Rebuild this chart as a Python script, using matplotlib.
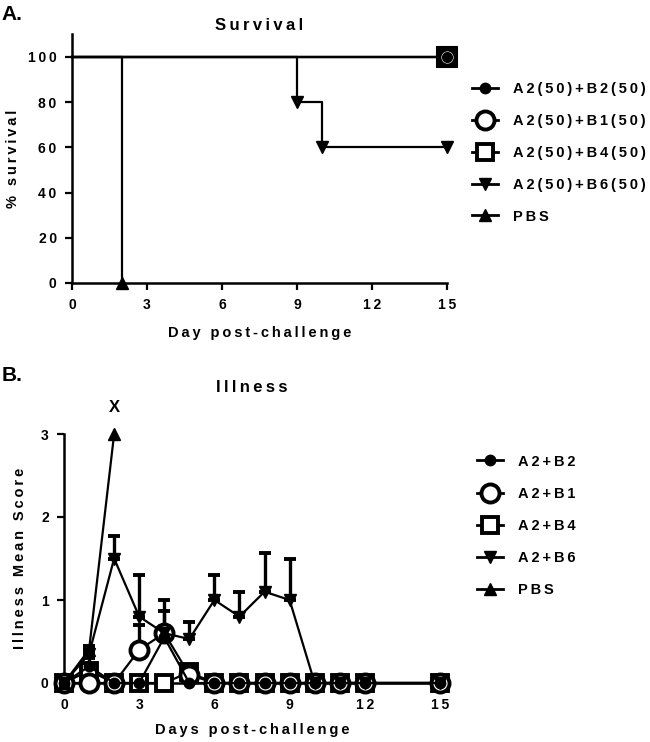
import matplotlib
matplotlib.use('Agg')
import matplotlib.pyplot as plt
import numpy as np

plt.rcParams['font.family'] = ['Liberation Sans', 'DejaVu Sans']
plt.rcParams['font.weight'] = 'bold'
plt.rcParams['axes.labelweight'] = 'bold'

# ---- survival data (panel A) ----
surv_labels = ['A2(50)+B2(50)', 'A2(50)+B1(50)', 'A2(50)+B4(50)', 'A2(50)+B6(50)', 'PBS']
b2_t = [0, 15]
b2_s = [100, 100]
b1_t = [0, 15]
b1_s = [100, 100]
b4_t = [0, 15]
b4_s = [100, 100]
b6_t = [0, 9, 10, 15]
b6_s = [100, 80, 60, 60]
pbs_t = [0, 2]
pbs_s = [100, 0]

# ---- illness data (panel B) ----
ill_labels = ['A2+B2', 'A2+B1', 'A2+B4', 'A2+B6', 'PBS']
days = [0, 1, 2, 3, 4, 5, 6, 7, 8, 9, 10, 11, 12, 15]
b2_ill = [0, 0.2, 0, 0, 0.55, 0, 0, 0, 0, 0, 0, 0, 0, 0]
b2_err = [0, 0.1, 0, 0, 0, 0, 0, 0, 0, 0, 0, 0, 0, 0]
b1_ill = [0, 0, 0, 0.4, 0.6, 0.1, 0, 0, 0, 0, 0, 0, 0, 0]
b1_err = [0, 0, 0, 0.3, 0.27, 0, 0, 0, 0, 0, 0, 0, 0, 0]
b4_ill = [0, 0.15, 0, 0, 0, 0.13, 0, 0, 0, 0, 0, 0, 0, 0]
b4_err = [0, 0.05, 0, 0, 0, 0, 0, 0, 0, 0, 0, 0, 0, 0]
b6_ill = [0, 0.35, 1.5, 0.8, 0.6, 0.53, 1.0, 0.8, 1.1, 1.0, 0, 0, 0, 0]
b6_err = [0, 0.1, 0.27, 0.5, 0.4, 0.2, 0.3, 0.3, 0.47, 0.5, 0, 0, 0, 0]
pbs_days = [0, 1, 2]
pbs_ill = [0, 0.4, 3.0]
pbs_err = [0, 0.05, 0]

xticks = [0, 3, 6, 9, 12, 15]


def sp(s):
    # Prism-like letter spacing
    return '\u2009'.join(s)


styles = [
    dict(marker='o', ms=7, mfc='black', mec='black', mew=1.5),
    dict(marker='o', ms=13, mfc='white', mec='black', mew=2.8),
    dict(marker='s', ms=12, mfc='white', mec='black', mew=2.8),
    dict(marker='v', ms=8, mfc='black', mec='black', mew=1),
    dict(marker='^', ms=8, mfc='black', mec='black', mew=1),
]
draw_order = [2, 1, 0, 3, 4]

fig = plt.figure(figsize=(6.5, 7.42), dpi=100)


def style_axes(ax):
    for s in ['top', 'right']:
        ax.spines[s].set_visible(False)
    for s in ['left', 'bottom']:
        ax.spines[s].set_linewidth(1.8)
    ax.tick_params(width=1.6, length=5, labelsize=10, pad=6)
    ax.set_xticks(xticks)
    ax.set_xticklabels([sp(str(t)) for t in xticks])


# ---- panel A ----
axA = fig.add_axes([72 / 650, 1 - 283 / 742, 375 / 650, 248.6 / 742])
style_axes(axA)
axA.set_xlim(0, 15)
axA.set_ylim(0, 110)
yt = [0, 20, 40, 60, 80, 100]
axA.set_yticks(yt)
axA.set_yticklabels([sp(str(t)) for t in yt])

surv_t = [b2_t, b1_t, b4_t, b6_t, pbs_t]
surv_s = [b2_s, b1_s, b4_s, b6_s, pbs_s]
handlesA = []
for i in draw_order:
    t, s = surv_t[i], surv_s[i]
    axA.step(t, s, where='post', color='black', lw=1.6, clip_on=False, zorder=3)
    st = dict(styles[i])
    # overlapping end markers look like a solid square with a white ring
    if i == 2:
        st.update(ms=14, mfc='black', mew=1.5)
    if i == 1:
        st.update(ms=10, mew=1.2)
    if i == 0:
        st.update(ms=6.5)
    axA.plot(t[1:], s[1:], ls='none', clip_on=False, zorder=4, **st)
for i in range(5):
    h, = axA.plot([], [], color='black', lw=2, **styles[i])
    handlesA.append(h)

axA.set_title(sp('Survival'), fontsize=12, fontweight='bold', pad=3)
axA.set_ylabel(sp('% survival'), fontsize=10.5, labelpad=6)
axA.set_xlabel(sp('Day post-challenge'), fontsize=10.5, labelpad=10)
fig.legend(handlesA, [sp(l) for l in surv_labels], loc='center left',
           bbox_to_anchor=(472 / 650, 1 - 153 / 742), frameon=False,
           fontsize=10.5, handlelength=1.8, handletextpad=1.0, labelspacing=1.22,
           borderpad=0, borderaxespad=0)

# ---- panel B ----
axB = fig.add_axes([64 / 650, 1 - 683 / 742, 376 / 650, 249 / 742])
style_axes(axB)
axB.set_xlim(0, 15)
axB.set_ylim(0, 3)
axB.set_yticks([0, 1, 2, 3])
axB.set_yticklabels(['0', '1', '2', '3'])

ill_x = [days, days, days, days, pbs_days]
ill_y = [b2_ill, b1_ill, b4_ill, b6_ill, pbs_ill]
ill_e = [b2_err, b1_err, b4_err, b6_err, pbs_err]
handlesB = []
for i in draw_order:
    x, y, e = ill_x[i], ill_y[i], ill_e[i]
    e = np.array(e)
    mask = e > 0
    if mask.any():
        xe = np.array(x)[mask]
        ye = np.array(y)[mask]
        axB.errorbar(xe, ye, yerr=[np.zeros(mask.sum()), e[mask]], fmt='none',
                     ecolor='black', elinewidth=2.4, capsize=4.5, capthick=2.8,
                     clip_on=False, zorder=2)
    axB.plot(x, y, color='black', lw=1.6, clip_on=False, zorder=3, **styles[i])
for i in range(5):
    h, = axB.plot([], [], color='black', lw=2, **styles[i])
    handlesB.append(h)

axB.annotate('X', xy=(2, 3), xytext=(0, 14), textcoords='offset points',
             ha='center', va='bottom', fontsize=12, fontweight='bold',
             annotation_clip=False)
axB.set_title(sp('Illness'), fontsize=12, fontweight='bold', pad=30)
axB.set_ylabel(sp('Illness Mean Score'), fontsize=10.5, labelpad=10)
axB.set_xlabel(sp('Days post-challenge'), fontsize=10.5, labelpad=8)
fig.legend(handlesB, [sp(l) for l in ill_labels], loc='center left',
           bbox_to_anchor=(477 / 650, 1 - 526 / 742), frameon=False,
           fontsize=10.5, handlelength=1.8, handletextpad=1.0, labelspacing=1.25,
           borderpad=0, borderaxespad=0)

fig.text(0.003, 1 - 14 / 742, 'A.', fontsize=15, fontweight='bold', va='center')
fig.text(0.003, 1 - 376 / 742, 'B.', fontsize=15, fontweight='bold', va='center')

fig.savefig('out.png', dpi=100)
